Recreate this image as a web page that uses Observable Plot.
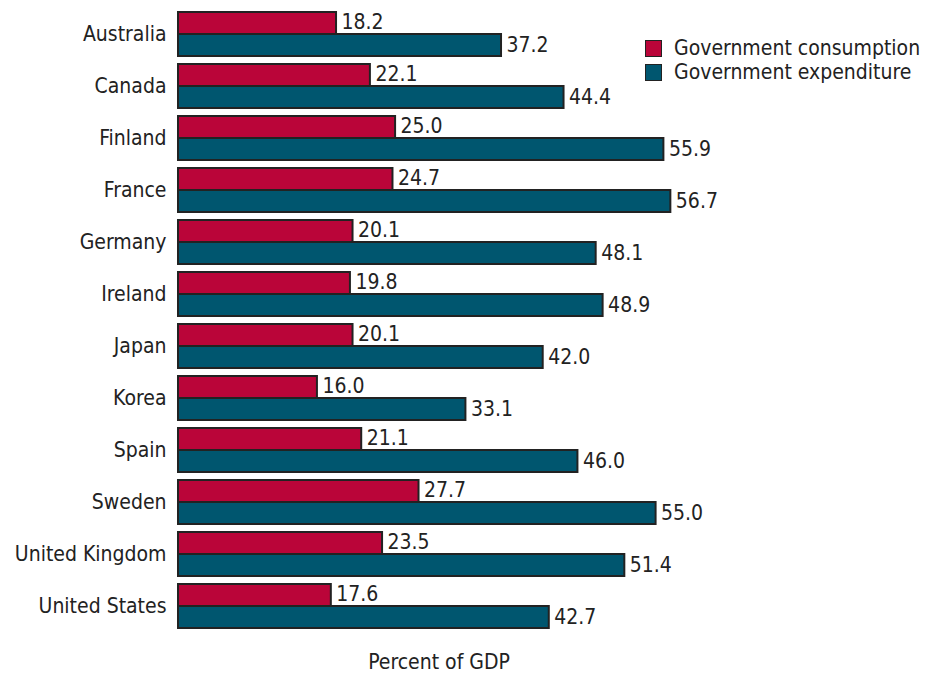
<!DOCTYPE html>
<html>
<head>
<meta charset="utf-8">
<script src="https://cdn.jsdelivr.net/npm/d3@7"></script>
<script src="https://cdn.jsdelivr.net/npm/@observablehq/plot@0.6"></script>
<style>
  body { margin: 0; background: #fff; }
  #wrap { position: relative; width: 928px; height: 674px; font-family: "Liberation Sans Narrow", "DejaVu Sans Condensed", "Roboto Condensed", sans-serif; }
  #legend { position: absolute; left: 645px; top: 36px; color: #222; font-size: 21px; line-height: 24px; }
  #legend div { display: flex; align-items: center; height: 24px; }
  #legend span.sw { display: inline-block; width: 15px; height: 15px; border: 1.5px solid #222; margin-right: 12px; }
</style>
</head>
<body>
<div id="wrap"><div id="legend"></div></div>
<script>
const countries = ["Australia","Canada","Finland","France","Germany","Ireland","Japan","Korea","Spain","Sweden","United Kingdom","United States"];
const consumption = [18.2,22.1,25.0,24.7,20.1,19.8,20.1,16.0,21.1,27.7,23.5,17.6];
const expenditure = [37.2,44.4,55.9,56.7,48.1,48.9,42.0,33.1,46.0,55.0,51.4,42.7];
const seriesNames = ["Government consumption","Government expenditure"];
const seriesColors = ["#BA0539","#00566F"];

const cons = countries.map((c, i) => ({country: c, value: consumption[i]}));
const expd = countries.map((c, i) => ({country: c, value: expenditure[i]}));

const font = '"Liberation Sans Narrow", "DejaVu Sans Condensed", sans-serif';

const chart = Plot.plot({
  width: 928,
  height: 674,
  marginLeft: 178,
  marginRight: 229,
  marginTop: 8,
  marginBottom: 42,
  style: {fontFamily: font, fontSize: "21px", color: "#222", background: "#fff"},
  x: {domain: [0, 60], axis: null},
  y: {domain: countries, paddingInner: 0.154, paddingOuter: 0.077, label: null, tickSize: 0, tickPadding: 12},
  marks: [
    Plot.barX(cons, {x: "value", y: "country", fill: seriesColors[0], stroke: "#222", strokeWidth: 2, insetBottom: 22}),
    Plot.barX(expd, {x: "value", y: "country", fill: seriesColors[1], stroke: "#222", strokeWidth: 2, insetTop: 22}),
    Plot.text(cons, {x: "value", y: "country", text: d => d.value.toFixed(1), dy: -12, dx: 5, textAnchor: "start", fill: "#222", fontSize: 21}),
    Plot.text(expd, {x: "value", y: "country", text: d => d.value.toFixed(1), dy: 11, dx: 5, textAnchor: "start", fill: "#222", fontSize: 21}),
    Plot.text(["Percent of GDP"], {frameAnchor: "bottom", dy: 36, text: d => d, fill: "#222", fontSize: 21})
  ]
});
const wrap = document.getElementById("wrap");
wrap.insertBefore(chart, wrap.firstChild);
chart.querySelectorAll("g[aria-label='y-axis tick label'] text, g[aria-label='y-axis tick label']").forEach(n => n.setAttribute("font-size", "21"));

const legend = document.getElementById("legend");
seriesNames.forEach((name, i) => {
  const row = document.createElement("div");
  const sw = document.createElement("span");
  sw.className = "sw";
  sw.style.background = seriesColors[i];
  row.appendChild(sw);
  row.appendChild(document.createTextNode(name));
  legend.appendChild(row);
});
</script>
</body>
</html>
